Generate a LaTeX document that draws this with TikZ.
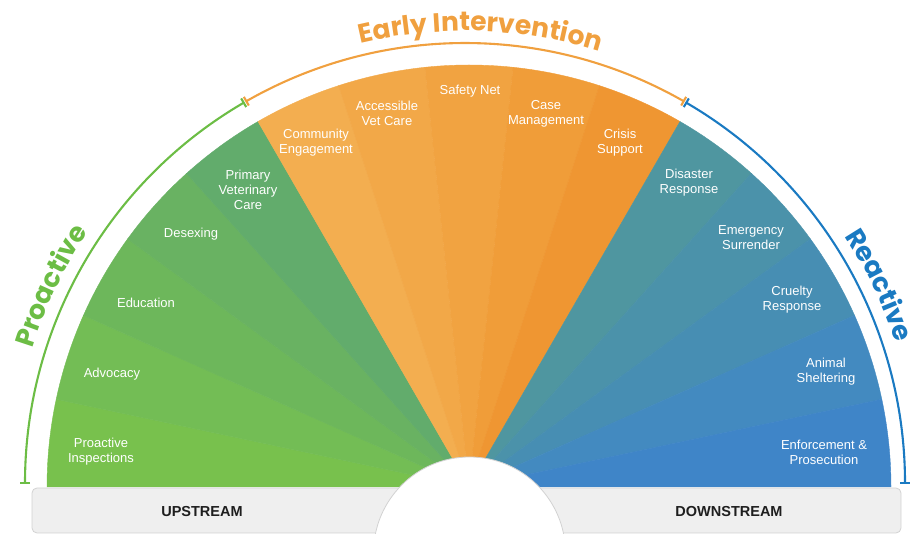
\documentclass[tikz,border=0pt]{standalone}
\usepackage{fontspec}
\setmainfont{Liberation Sans}
\newfontfamily\popfont{Poppins}
\usetikzlibrary{decorations.text}
\definecolor{sA}{HTML}{78C14D}
\definecolor{sB}{HTML}{73BD55}
\definecolor{sC}{HTML}{6DB75B}
\definecolor{sD}{HTML}{69B262}
\definecolor{sE}{HTML}{62AC6C}
\definecolor{sF}{HTML}{F3AE50}
\definecolor{sG}{HTML}{F2A848}
\definecolor{sH}{HTML}{F1A341}
\definecolor{sI}{HTML}{F09D39}
\definecolor{sJ}{HTML}{EF9632}
\definecolor{sK}{HTML}{4F96A0}
\definecolor{sL}{HTML}{4B92AA}
\definecolor{sM}{HTML}{478EB3}
\definecolor{sN}{HTML}{438AC0}
\definecolor{sO}{HTML}{3F85C8}
\definecolor{grnT}{HTML}{6CBD45}
\definecolor{orgT}{HTML}{F0A03F}
\definecolor{bluT}{HTML}{1A7AC2}
\definecolor{barfill}{HTML}{EFEFEF}
\definecolor{barline}{HTML}{D2D2D2}
\definecolor{darktext}{HTML}{1E1E1E}
\tikzset{
  seglabel/.style={text=white, align=center, inner sep=0pt, font=\fontsize{13}{15}\selectfont},
  barlabel/.style={text=darktext, inner sep=0pt, font=\bfseries\fontsize{14.5}{16}\selectfont},
  rangearc/.style={line width=2.1pt},
}
\begin{document}
\begin{tikzpicture}[x=1pt,y=1pt]
\useasboundingbox (0,0) rectangle (912,534);
\coordinate (C) at (469,47);
\coordinate (A) at (465,51);
% fan segments
\foreach \i/\c in {0/sA,1/sB,2/sC,3/sD,4/sE,5/sF,6/sG,7/sH,8/sI,9/sJ,10/sK,11/sL,12/sM,13/sN,14/sO}{
  \pgfmathsetmacro{\sa}{180-12*\i}
  \pgfmathsetmacro{\ea}{168-12*\i}
  \fill[\c, draw=\c, line width=0.4pt] (C) -- ++(\sa:422) arc[start angle=\sa, end angle=\ea, radius=422] -- cycle;
}
% range arcs
\draw[rangearc, grnT] (A) ++(180:440) arc[start angle=180, end angle=120.2, radius=440];
\draw[rangearc, orgT] (A) ++(119.8:440) arc[start angle=119.8, end angle=60.2, radius=440];
\draw[rangearc, bluT] (A) ++(59.8:440) arc[start angle=59.8, end angle=0, radius=440];
% ticks
\draw[rangearc, grnT] (A) ++(180:435) -- ++(180:10);
\draw[rangearc, grnT] (A) ++(120.2:435) -- ++(120.2:10);
\draw[rangearc, orgT] (A) ++(119.8:435) -- ++(119.8:10);
\draw[rangearc, orgT] (A) ++(60.2:435) -- ++(60.2:10);
\draw[rangearc, bluT] (A) ++(59.8:435) -- ++(59.8:10);
\draw[rangearc, bluT] (A) ++(0:435) -- ++(0:10);
% curved titles
\path (A) ++(114:452) coordinate (eiS);
\path (A) ++(178:453) coordinate (prS);
\path (A) ++(49:453) coordinate (reS);
\path[decorate, decoration={text along path, text align=center, text color=orgT,
  text={|\popfont\bfseries\fontsize{26.5}{26.5}\selectfont|Early Intervention}}]
  (eiS) arc[start angle=114, end angle=62, radius=452];
\path[decorate, decoration={text along path, text align=center, text color=grnT,
  text={|\popfont\bfseries\fontsize{26.5}{26.5}\selectfont|Proactive}}]
  (prS) arc[start angle=178, end angle=131, radius=453];
\path[decorate, decoration={text along path, text align=center, text color=bluT,
  text={|\popfont\bfseries\fontsize{26.5}{26.5}\selectfont|Reactive}}]
  (reS) arc[start angle=49, end angle=2, radius=453];
% bottom bar
\draw[fill=barfill, draw=barline, line width=0.8pt, rounded corners=5pt] (32,1) rectangle (901,46);
\begin{scope}
  \clip (0,0) rectangle (912,534);
  \draw[fill=white, draw=barline, line width=0.8pt] (469.5,-19) circle[radius=96];
\end{scope}
% labels
\node[seglabel] (l1) at (101,82) {Proactive\\Inspections};
\node[seglabel] (l2) at (112,160) {Advocacy};
\node[seglabel] (l3) at (146,231) {Education};
\node[seglabel] (l4) at (191,300) {Desexing};
\node[seglabel] (l5) at (248,344) {Primary\\Veterinary\\Care};
\node[seglabel] (l6) at (316,391) {Community\\Engagement};
\node[seglabel] (l7) at (387,421) {Accessible\\Vet Care};
\node[seglabel] (l8) at (470,443) {Safety Net};
\node[seglabel] (l9) at (546,420) {Case\\Management};
\node[seglabel] (l10) at (620,391) {Crisis\\Support};
\node[seglabel] (l11) at (689,351) {Disaster\\Response};
\node[seglabel] (l12) at (751,296) {Emergency\\Surrender};
\node[seglabel] (l13) at (792,234) {Cruelty\\Response};
\node[seglabel] (l14) at (826,162) {Animal\\Sheltering};
\node[seglabel] (l15) at (824,82) {Enforcement \&\\Prosecution};
\node[barlabel] (up) at (202,22) {UPSTREAM};
\node[barlabel] (down) at (729,22) {DOWNSTREAM};
\end{tikzpicture}
\end{document}
